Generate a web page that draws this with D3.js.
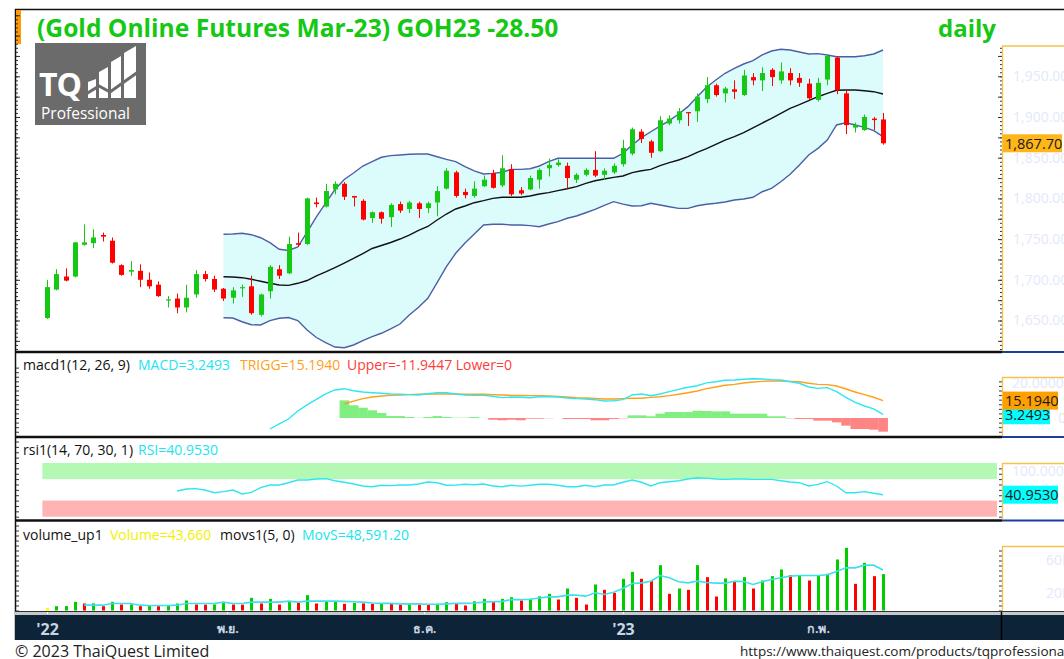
<!DOCTYPE html>
<html>
<head>
<meta charset="utf-8">
<script src="https://cdn.jsdelivr.net/npm/d3@7"></script>
<style>
  body { margin: 0; background: #fff; }
  svg { display: block; }
  text { font-family: "Open Sans", "DejaVu Sans", sans-serif; }
</style>
</head>
<body>
<svg id="chart" width="1064" height="659"></svg>
<script>
// ---- data (daily bars, index 0..90) ----
const opens = [1653,1688,1704,1704,1743,1745,1755,1748,1718,1710,
  1711,1700,1694,1675,1677,1666,1682,1707,1701,1689,
  1678,1690,1692,1657,1686,1713,1708,1745,1744,1795,
  1790,1811,1818,1803,1797,1776,1783,1777,1793,1787,
  1794,1788,1795,1812,1832,1808,1803,1815,1831,1816,
  1836,1810,1811,1823,1837,1841,1840,1823,1829,1835,
  1829,1832,1842,1855,1882,1870,1858,1892,1896,1906,
  1907,1922,1939,1929,1934,1927,1949,1945,1958,1945,
  1954,1948,1941,1921,1946,1973,1929,1887,1884,1898,
  1897];
const highs = [1700,1713,1714,1746,1768,1762,1758,1752,1719,1723,
  1719,1709,1698,1680,1683,1694,1712,1711,1705,1690,
  1691,1694,1705,1683,1718,1718,1753,1758,1801,1801,
  1818,1821,1820,1803,1799,1784,1784,1794,1796,1797,
  1796,1796,1815,1837,1834,1812,1821,1828,1835,1853,
  1842,1814,1828,1837,1849,1848,1844,1831,1837,1858,
  1837,1843,1872,1887,1885,1872,1901,1902,1911,1906,
  1929,1949,1941,1937,1945,1958,1954,1961,1960,1967,
  1960,1954,1947,1948,1976,1975,1933,1893,1903,1900,
  1905];
const lows = [1652,1687,1698,1703,1742,1739,1747,1720,1705,1705,
  1691,1689,1679,1666,1659,1660,1678,1698,1685,1674,
  1671,1679,1657,1655,1677,1701,1707,1741,1743,1789,
  1789,1805,1798,1790,1773,1770,1769,1765,1782,1782,
  1776,1782,1778,1811,1801,1800,1801,1814,1812,1814,
  1803,1804,1810,1812,1827,1839,1812,1819,1827,1826,
  1823,1830,1839,1853,1868,1850,1857,1890,1892,1889,
  1894,1917,1925,1918,1922,1926,1939,1932,1938,1941,
  1939,1937,1921,1919,1939,1928,1879,1881,1883,1884,
  1866];
const closes = [1691,1707,1699,1746,1746,1752,1753,1721,1706,1712,
  1700,1692,1680,1676,1666,1678,1707,1701,1688,1677,
  1687,1691,1659,1682,1716,1705,1744,1743,1800,1793,
  1809,1818,1802,1801,1774,1783,1775,1792,1785,1795,
  1787,1794,1809,1834,1803,1804,1812,1823,1813,1837,
  1805,1806,1825,1835,1841,1844,1825,1829,1835,1828,
  1834,1840,1862,1885,1873,1856,1896,1898,1907,1905,
  1925,1939,1927,1935,1931,1951,1945,1954,1949,1956,
  1945,1942,1923,1942,1975,1933,1890,1890,1900,1896.2,
  1867.7];

// bollinger bands, first value at bar 19
const bbStart = 19;
const bbUpper = [1755.9,1756.3,1757.1,1755.4,1751.7,1745.6,1737.5,1736.0,1740.3,1758.7,
  1777.2,1794.3,1810.9,1823.2,1831.2,1839.8,1845.1,1850.5,1852.5,1853.3,
  1854.2,1854.5,1854.5,1851.2,1848.0,1845.1,1838.9,1833.7,1830.0,1830.8,
  1832.1,1835.7,1835.7,1836.5,1839.8,1845.1,1849.3,1849.3,1849.3,1849.3,
  1849.3,1849.3,1849.3,1855.4,1865.6,1874.6,1881.9,1888.9,1895.5,1903.7,
  1912.7,1924.9,1936.5,1945.5,1953.7,1959.8,1965.1,1969.2,1976.2,1981.1,
  1983.2,1982.3,1979.9,1977.4,1977.8,1976.2,1974.1,1974.1,1974.1,1975.3,
  1977.4,1982.3];
const bbMid = [1703.8,1703.4,1702.6,1700.6,1698.2,1695.7,1693.6,1693.2,1695.7,1699.1,
  1704.7,1709.6,1715.1,1720.6,1726.2,1732.3,1738.5,1742.1,1745.8,1750.1,
  1755.0,1760.6,1765.5,1773.5,1780.8,1787.0,1790.7,1794.7,1797.2,1800.1,
  1801.4,1801.4,1801.4,1802.9,1805.4,1807.1,1809.5,1811.9,1814.4,1818.5,
  1821.7,1823.8,1825.9,1827.5,1831.6,1834.0,1835.7,1840.2,1843.9,1847.2,
  1851.2,1856.6,1861.1,1866.5,1871.7,1875.8,1880.7,1886.5,1892.6,1898.4,
  1904.5,1910.7,1915.1,1920.0,1924.9,1929.1,1932.8,1933.2,1933.2,1932.3,
  1931.1,1928.3];
const bbLower = [1653.4,1653.1,1648.5,1644.8,1644.5,1649.8,1652.7,1653.7,1650.0,1638.3,
  1629.1,1622.9,1617.4,1616.6,1619.9,1625.2,1630.1,1634.3,1639.6,1645.7,
  1656.8,1666.2,1677.3,1696.4,1716.1,1732.6,1745.2,1756.3,1767.3,1768.2,
  1768.2,1767.3,1767.3,1766.5,1765.2,1768.6,1771.4,1775.6,1778.4,1782.4,
  1786.6,1791.5,1796.0,1793.0,1790.7,1791.0,1794.0,1791.9,1789.8,1787.8,
  1787.8,1791.0,1792.8,1794.0,1795.6,1798.0,1799.3,1801.4,1808.2,1812.4,
  1820.5,1829.6,1841.0,1853.3,1861.5,1871.7,1890.2,1893.0,1890.2,1887.3,
  1883.2,1875.8];

// macd(12,26,9)
const macdStart = 24;
const macdLine = [-9.6,-5.2,-0.9,6.1,11.4,16.3,21.0,24.5,25.6,23.8,
  22.7,22.1,21.6,21.0,20.7,20.4,20.1,21.2,22.1,22.1,
  21.0,20.1,19.8,19.8,19.0,17.8,18.3,18.1,17.7,18.6,
  18.6,18.3,17.5,16.9,16.6,16.0,14.8,15.1,16.0,20.1,
  21.0,19.5,21.0,23.0,25.0,26.8,28.2,30.7,31.7,32.9,
  33.2,33.8,34.3,34.1,33.5,33.2,31.7,30.3,27.1,25.9,
  26.5,23.0,18.1,13.7,10.5,7.9,3.2493];
const trigStart = 32;
const trigLine = [12.2,14.8,16.9,18.3,19.2,19.8,20.1,20.4,20.7,21.0,
  21.0,21.0,21.0,20.7,20.7,20.7,20.4,20.1,19.8,19.6,
  19.5,19.5,19.2,18.9,18.3,17.7,17.5,17.0,16.6,16.6,
  16.9,17.2,17.2,18.0,18.6,19.5,20.7,22.1,23.6,25.6,
  27.1,28.6,29.4,30.6,31.4,32.0,32.3,32.3,32.0,31.7,
  30.3,29.4,29.1,27.9,25.3,22.7,20.4,18.1,15.194];
const histo = [15.4,11.1,9.0,6.7,4.4,1.7,1.7,0.9,0.2,0.9,
  1.7,0.9,0.3,0.3,0.9,0.1,-1.5,-2.0,-1.5,-2.0,
  -0.6,-0.6,-0.2,0,-0.9,-0.9,-0.9,-2.0,-2.0,-0.9,
  -0.3,2.3,2.3,1.5,3.8,5.2,5.2,5.2,6.4,6.1,
  5.8,5.8,3.8,3.8,3.8,3.8,1.5,1.5,-0.3,-0.9,
  -0.9,-2.3,-2.3,-3.8,-6.7,-9.6,-9.6,-10.2,-11.9447];

// rsi(14)
const rsiStart = 14;
const rsiLine = [47.9,51.6,52.2,49.7,44.7,46.6,49.7,42.3,45.4,54.0,
  59.0,59.0,63.3,68.3,68.3,70.2,70.8,67.0,64.1,60.9,
  57.2,55.9,58.5,57.8,59.0,59.0,60.9,64.6,63.3,58.5,
  58.8,60.3,59.6,60.9,57.2,55.9,58.5,57.0,58.5,60.3,
  60.3,58.5,55.9,55.9,58.5,55.9,59.0,59.0,64.1,68.3,
  64.1,57.2,63.3,65.2,67.0,70.2,72.6,71.8,70.2,69.6,
  70.2,70.2,69.6,69.6,69.6,67.0,64.6,63.3,57.2,60.3,
  65.2,57.2,44.7,44.7,46.6,43.6,40.953];

// volume and 5-bar moving average
const volumes = [3200,5200,5300,10400,8400,8600,5200,10400,7200,7400,
  5200,6000,5200,6000,8400,12000,7200,7000,7300,10000,
  7200,7000,15200,8400,14000,7200,11200,9200,18400,8400,
  10400,10600,8000,9000,8500,8000,9000,8000,7000,7500,
  7000,6500,8000,10000,9000,6000,11000,14000,10000,14000,
  16000,12000,14000,17000,20000,13200,26400,15200,7200,31200,
  24800,21200,38000,46400,38000,35200,54400,20000,26400,24800,
  54400,40000,16800,38400,35200,40000,26400,36000,41200,49200,
  42400,42600,36000,42000,44000,61200,75200,32000,57200,41200,
  43660];
const movsStart = 4;
const movs = [6400,6400,6400,8400,8400,8400,6400,6000,6000,6000,
  6400,8400,8400,8400,8400,10000,8400,8400,10000,10000,
  10000,10000,11200,10000,11200,11200,11200,11200,11000,10500,
  10000,9000,8500,8500,8000,8000,8000,7500,7500,8000,
  8500,8500,9000,10000,10500,11000,13000,13000,13500,15000,
  16400,16400,18400,18400,17200,21200,19200,22000,26400,32400,
  33200,35200,42000,39200,34400,33200,35200,33600,32800,32800,
  35200,34800,31200,34400,37200,39200,41200,42000,42000,42000,
  42800,46800,51200,51200,54400,54400,48591.2];

// date axis
const tickPos = [0, 19.4, 40.6, 62, 83];
const tickLabels = ["'22", "พ.ย.", "ธ.ค.", "'23", "ก.พ."];
const priceTicks = [1650, 1700, 1750, 1800, 1850, 1900, 1950];

// ---- scales ----
const svg = d3.select("#chart");
const x = d3.scaleLinear().domain([0, 90]).range([47, 883]);
const step = x(1) - x(0);
const yP = d3.scaleLinear().domain([1650, 1950]).range([320.5, 76.3]);
const yM = d3.scaleLinear().domain([0, 15.194]).range([418, 400.6]);
const yR = d3.scaleLinear().domain([0, 100]).range([516.7, 463]);
const yV = d3.scaleLinear().domain([0, 60000]).range([610.5, 560.5]);

const GREEN = "#14c814", RED = "#ff0000";
const cx = i => Math.round(x(i));

function addClip(id, y0, y1) {
  svg.append("clipPath").attr("id", id).append("rect")
    .attr("x", 17).attr("y", y0).attr("width", 981).attr("height", y1 - y0);
}
addClip("cpPrice", 10, 351);
addClip("cpMacd", 353, 436);
addClip("cpRsi", 438, 519);
addClip("cpVol", 522, 611);

// ---- price pane ----
const gp = svg.append("g").attr("clip-path", "url(#cpPrice)");

const bbArea = d3.area()
  .x((d, k) => x(k + bbStart))
  .y0((d, k) => yP(bbLower[k]))
  .y1(d => yP(d));
gp.append("path").datum(bbUpper).attr("d", bbArea).attr("fill", "#dcfcfc");

const bbLineFn = d3.line().x((d, k) => x(k + bbStart)).y(d => yP(d));
gp.append("path").datum(bbUpper).attr("d", bbLineFn)
  .attr("fill", "none").attr("stroke", "#4c5fa6").attr("stroke-width", 1.4);
gp.append("path").datum(bbLower).attr("d", bbLineFn)
  .attr("fill", "none").attr("stroke", "#4c5fa6").attr("stroke-width", 1.4);
gp.append("path").datum(bbMid).attr("d", bbLineFn)
  .attr("fill", "none").attr("stroke", "#111").attr("stroke-width", 1.4);

const idx = d3.range(closes.length);
const candleColor = i => closes[i] >= opens[i] ? GREEN : RED;
gp.selectAll("line.wick").data(idx).join("line")
  .attr("class", "wick")
  .attr("x1", i => cx(i) + 0.5).attr("x2", i => cx(i) + 0.5)
  .attr("y1", i => yP(highs[i])).attr("y2", i => yP(lows[i]))
  .attr("stroke", candleColor).attr("stroke-width", 1);
gp.selectAll("rect.body").data(idx).join("rect")
  .attr("class", "body")
  .attr("x", i => cx(i) - 2).attr("width", 5)
  .attr("y", i => yP(Math.max(opens[i], closes[i])))
  .attr("height", i => Math.max(1.2, Math.abs(yP(opens[i]) - yP(closes[i]))))
  .attr("fill", candleColor);

// ---- macd pane ----
const gm = svg.append("g").attr("clip-path", "url(#cpMacd)");
gm.selectAll("rect.hist").data(histo).join("rect")
  .attr("class", "hist")
  .attr("x", (d, k) => x(k + trigStart) - step / 2).attr("width", step + 0.3)
  .attr("y", d => Math.min(yM(d), yM(0)))
  .attr("height", d => Math.abs(yM(d) - yM(0)))
  .attr("fill", d => d >= 0 ? "#80ee80" : "#ff8484");
gm.append("path").datum(trigLine)
  .attr("d", d3.line().x((d, k) => x(k + trigStart)).y(d => yM(d)))
  .attr("fill", "none").attr("stroke", "#ff9f1a").attr("stroke-width", 1.4);
gm.append("path").datum(macdLine)
  .attr("d", d3.line().x((d, k) => x(k + macdStart)).y(d => yM(d)))
  .attr("fill", "none").attr("stroke", "#2ee6f2").attr("stroke-width", 1.4);

// ---- rsi pane ----
const gr = svg.append("g").attr("clip-path", "url(#cpRsi)");
gr.append("rect").attr("x", x(-0.5)).attr("width", 997 - x(-0.5))
  .attr("y", yR(100)).attr("height", yR(70) - yR(100)).attr("fill", "#b3f8b3");
gr.append("rect").attr("x", x(-0.5)).attr("width", 997 - x(-0.5))
  .attr("y", yR(30)).attr("height", yR(0) - yR(30)).attr("fill", "#ffb3b3");
gr.append("path").datum(rsiLine)
  .attr("d", d3.line().x((d, k) => x(k + rsiStart)).y(d => yR(d)))
  .attr("fill", "none").attr("stroke", "#2ee6f2").attr("stroke-width", 1.4);

// ---- volume pane ----
const gv = svg.append("g").attr("clip-path", "url(#cpVol)");
gv.selectAll("rect.vol").data(volumes).join("rect")
  .attr("class", "vol")
  .attr("x", (d, i) => cx(i) - 1).attr("width", 3)
  .attr("y", d => yV(d)).attr("height", d => yV(0) - yV(d))
  .attr("fill", (d, i) => i === 0 ? "#ffff00" : (d >= volumes[i - 1] ? "#00cc00" : "#ff0000"));
gv.append("path").datum(movs)
  .attr("d", d3.line().x((d, k) => x(k + movsStart)).y(d => yV(d)))
  .attr("fill", "none").attr("stroke", "#3fe0ea").attr("stroke-width", 1.6);

// ---- frame, separators ----
function sep(y) {
  svg.append("line").attr("x1", 15).attr("x2", 1002).attr("y1", y).attr("y2", y)
    .attr("stroke", "#111").attr("stroke-width", 2.5);
  svg.append("line").attr("x1", 1002).attr("x2", 1064).attr("y1", y).attr("y2", y)
    .attr("stroke", "#1d3d9e").attr("stroke-width", 2);
}
sep(352); sep(437); sep(520.5);
svg.append("line").attr("x1", 15).attr("x2", 1064).attr("y1", 9.5).attr("y2", 9.5)
  .attr("stroke", "#111").attr("stroke-width", 1.5);
svg.append("line").attr("x1", 15.5).attr("x2", 15.5).attr("y1", 9).attr("y2", 640)
  .attr("stroke", "#111").attr("stroke-width", 1.5);
svg.append("rect").attr("x", 16).attr("y", 10).attr("width", 5).attr("height", 34).attr("fill", "#ff9a00");

// ruler ticks on both sides of each pane
function ruler(scale, vals, xPos, dir, size) {
  const ax = (dir === "left" ? d3.axisLeft(scale) : d3.axisRight(scale))
    .tickValues(vals).tickSize(size).tickFormat("");
  const g = svg.append("g").attr("transform", `translate(${xPos},0)`).call(ax);
  g.select(".domain").remove();
  g.selectAll("line").attr("stroke", "#333");
}
const pMinor = d3.range(1615, 2030, 5), pMajor = d3.range(1625, 2030, 25);
ruler(yP, pMinor, 16, "right", 2); ruler(yP, pMajor, 16, "right", 4);
ruler(yP, pMinor.filter(v => yP(v) > 46), 1002, "left", 2);
ruler(yP, pMajor.filter(v => yP(v) > 46), 1002, "left", 4);
const mVals = d3.range(-28, 45, 4);
ruler(yM, mVals.filter(v => yM(v) > 355 && yM(v) < 436), 16, "right", 3);
ruler(yM, mVals.filter(v => yM(v) > 378 && yM(v) < 436), 1002, "left", 3);
const rVals = d3.range(-30, 180, 10);
ruler(yR, rVals.filter(v => yR(v) > 440 && yR(v) < 519), 16, "right", 3);
ruler(yR, rVals.filter(v => yR(v) > 463 && yR(v) < 519), 1002, "left", 3);
const vVals = d3.range(0, 110000, 6000);
ruler(yV, vVals.filter(v => yV(v) > 524 && yV(v) < 611), 16, "right", 3);
ruler(yV, vVals.filter(v => yV(v) > 546 && yV(v) < 611), 1002, "left", 3);

// axis boxes (yellow top/left border)
function axisBox(y0, y1) {
  svg.append("line").attr("x1", 1002.5).attr("x2", 1002.5).attr("y1", y0).attr("y2", y1)
    .attr("stroke", "#f3c24a").attr("stroke-width", 1.3);
  svg.append("line").attr("x1", 1002).attr("x2", 1064).attr("y1", y0 + 0.5).attr("y2", y0 + 0.5)
    .attr("stroke", "#f3c24a").attr("stroke-width", 1.3);
}
axisBox(45.5, 351); axisBox(377, 436); axisBox(463, 519); axisBox(546, 611);

// faint price labels
svg.append("g").selectAll("text").data(priceTicks).join("text")
  .attr("x", 1013).attr("y", d => yP(d)).attr("dy", "0.35em")
  .attr("font-size", 14).attr("fill", "#e3e8fb")
  .text(d => d3.format(",.2f")(d));
const faint = [["20.0000", 1012, 383], ["0", 1058, 418], ["100.0000", 1012, 471], ["60K", 1046, 560], ["20K", 1046, 593]];
svg.append("g").selectAll("text").data(faint).join("text")
  .attr("x", d => d[1]).attr("y", d => d[2]).attr("dy", "0.35em")
  .attr("font-size", 14).attr("fill", "#e3e8fb").text(d => d[0]);

// value tags
function tag(yc, w, fill, label) {
  svg.append("rect").attr("x", 1003).attr("y", yc - 9).attr("width", w).attr("height", 18).attr("fill", fill);
  svg.append("text").attr("x", 1005).attr("y", yc).attr("dy", "0.36em")
    .attr("font-size", 14.5).attr("fill", "#1a1a1a").text(label);
}
tag(yP(closes[90]), 59, "#ffb619", d3.format(",.2f")(closes[90]));
tag(yM(macdLine[macdLine.length - 1]) + 1, 47, "#00ffff", "3.2493");
tag(yM(trigLine[trigLine.length - 1]), 55, "#ffa000", "15.1940");
tag(yR(rsiLine[rsiLine.length - 1]), 55, "#00ffff", "40.9530");

// ---- date axis band ----
svg.append("line").attr("x1", 15).attr("x2", 1064).attr("y1", 611.5).attr("y2", 611.5).attr("stroke", "#333").attr("stroke-width", 1);
svg.append("rect").attr("x", 15).attr("y", 612).attr("width", 1049).attr("height", 3).attr("fill", "#c6c9cc");
svg.append("rect").attr("x", 15).attr("y", 615).attr("width", 1049).attr("height", 25).attr("fill", "#0d2337");
svg.append("line").attr("x1", 1001.5).attr("x2", 1001.5).attr("y1", 612).attr("y2", 640).attr("stroke", "#000").attr("stroke-width", 1.5);
const xAx = svg.append("g").attr("transform", "translate(0,612)")
  .call(d3.axisBottom(x).tickValues(tickPos).tickFormat((d, i) => tickLabels[i]).tickSize(2).tickPadding(10));
xAx.select(".domain").remove();
xAx.selectAll("line").attr("stroke", "#fff");
xAx.selectAll("text").attr("font-size", (d, i) => (i === 0 || i === 3) ? 16 : 12.5)
  .attr("font-weight", "bold").attr("fill", "#c9d5e2")
  .attr("font-family", (d, i) => (i === 0 || i === 3) ? "'Open Sans', sans-serif" : "'Noto Sans', 'DejaVu Sans', sans-serif");

// ---- titles ----
svg.append("text").attr("x", 37).attr("y", 37).attr("font-size", 24.6).attr("font-weight", "bold")
  .attr("fill", "#14c814").text("(Gold Online Futures Mar-23) GOH23 -28.50");
svg.append("text").attr("x", 996).attr("y", 37).attr("text-anchor", "end").attr("font-size", 24)
  .attr("font-weight", "bold").attr("fill", "#14c814").text("daily");

// pane headers: [text, colour, x start]
function header(y, parts) {
  const t = svg.append("text").attr("y", y).attr("font-size", 14);
  parts.forEach(p => t.append("tspan").attr("x", p[2]).attr("fill", p[1]).text(p[0]));
}
header(370, [["macd1(12, 26, 9)", "#111", 23], ["MACD=3.2493", "#22e4f0", 138], ["TRIGG=15.1940", "#ffa020", 240], ["Upper=-11.9447 Lower=0", "#ff3b3b", 347]]);
header(455, [["rsi1(14, 70, 30, 1)", "#111", 23], ["RSI=40.9530", "#22e4f0", 138]]);
header(540, [["volume_up1", "#111", 23], ["Volume=43,660", "#f2f000", 110], ["movs1(5, 0)", "#111", 220], ["MovS=48,591.20", "#22e4f0", 302]]);

// ---- logo ----
const logo = svg.append("g");
logo.append("rect").attr("x", 35).attr("y", 43).attr("width", 111).attr("height", 82).attr("fill", "#6b6b6b");
logo.append("text").attr("x", 39).attr("y", 96).attr("font-size", 32).attr("font-weight", "bold")
  .attr("letter-spacing", -1).attr("fill", "#fff").text("TQ");
const bars = [[88, 96, 82, 79], [99, 108, 72, 67], [111, 121, 62, 56], [124, 136, 53, 46]];
logo.selectAll("polygon").data(bars).join("polygon")
  .attr("points", d => `${d[0]},${d[2]} ${d[1]},${d[3]} ${d[1]},98 ${d[0]},98`).attr("fill", "#fff");
logo.append("polyline").attr("points", "86,94 99,86 110,92 138,72")
  .attr("fill", "none").attr("stroke", "#6b6b6b").attr("stroke-width", 3);
logo.append("text").attr("x", 41).attr("y", 119).attr("font-size", 15.5).attr("fill", "#fff").text("Professional");

// ---- footer ----
svg.append("text").attr("x", 15).attr("y", 657).attr("font-size", 16).attr("fill", "#222")
  .text("© 2023 ThaiQuest Limited");
svg.append("text").attr("x", 740).attr("y", 656).attr("font-size", 13.5).attr("fill", "#222")
  .text("https://www.thaiquest.com/products/tqprofessional");
</script>
</body>
</html>
